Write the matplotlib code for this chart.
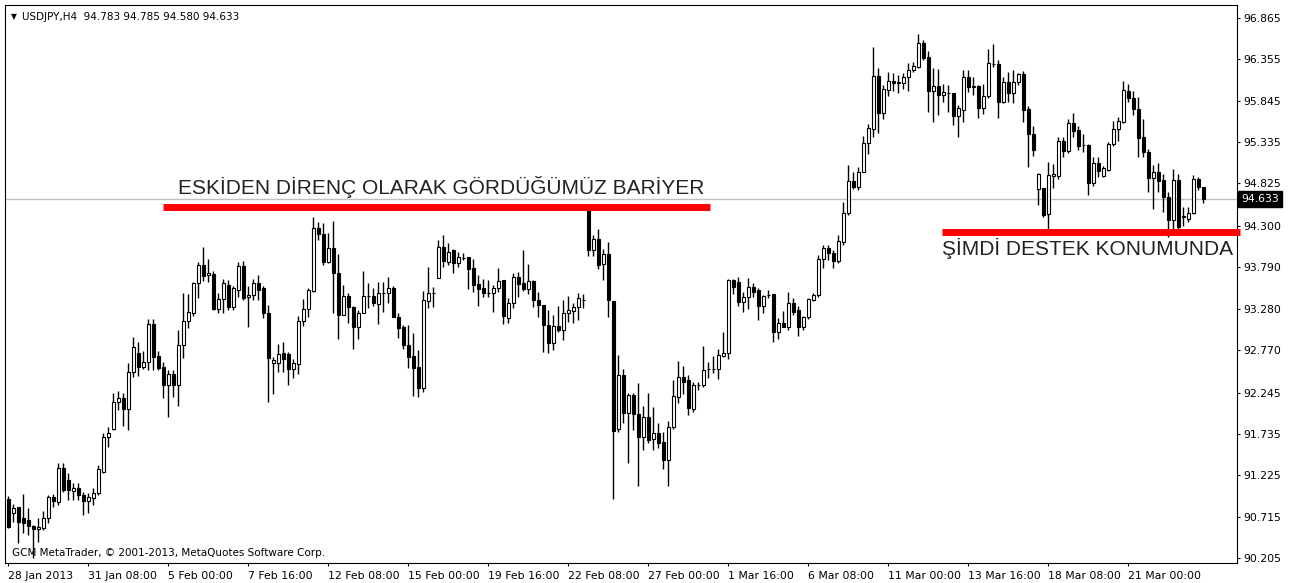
import matplotlib
matplotlib.use("Agg")
import matplotlib.pyplot as plt
import numpy as np

# USDJPY H4 candles
opens = [
    90.929, 90.764, 90.830, 90.694, 90.674, 90.600, 90.559, 90.571, 90.694, 90.962,
    90.900, 91.311, 91.167, 91.036, 91.064, 90.982, 90.908, 90.941, 91.003, 91.270,
    91.693, 91.792, 92.133, 92.182, 92.038, 92.503, 92.737, 92.564, 92.626, 93.091,
    92.696, 92.564, 92.338, 92.474, 92.338, 92.832, 93.132, 93.230, 93.592, 93.818,
    93.695, 93.707, 93.272, 93.395, 93.572, 93.304, 93.510, 93.806, 93.420, 93.448,
    93.592, 93.531, 93.231, 92.614, 92.614, 92.729, 92.721, 92.532, 92.598, 93.132,
    93.272, 93.502, 94.271, 94.197, 93.859, 94.024, 93.716, 93.202, 93.436, 93.296,
    93.058, 93.230, 93.436, 93.436, 93.337, 93.469, 93.469, 93.531, 93.181, 93.050,
    92.832, 92.697, 92.565, 92.298, 93.375, 93.470, 93.655, 94.045, 93.860, 94.004,
    93.840, 93.901, 93.922, 93.778, 93.585, 93.531, 93.478, 93.470, 93.531, 93.634,
    93.170, 93.355, 93.667, 93.593, 93.519, 93.626, 93.387, 93.326, 93.079, 92.853,
    93.067, 93.017, 93.231, 93.256, 93.297, 93.388, 94.497, 94.004, 94.136, 93.831,
    93.954, 93.378, 91.792, 92.462, 91.989, 92.215, 91.981, 91.693, 91.948, 91.668,
    91.750, 91.640, 91.413, 91.816, 92.194, 92.433, 92.400, 92.038, 92.339, 92.339,
    92.532, 92.532, 92.532, 92.697, 92.738, 93.634, 93.614, 93.367, 93.420, 93.552,
    93.511, 93.313, 93.449, 93.457, 92.997, 93.100, 93.059, 93.355, 93.264, 93.050,
    93.182, 93.387, 93.449, 93.889, 94.024, 93.971, 93.872, 94.107, 94.456, 94.859,
    94.777, 94.970, 95.319, 95.492, 96.150, 95.689, 95.977, 96.092, 96.080, 96.067,
    96.142, 96.224, 96.265, 96.553, 96.388, 95.965, 96.031, 95.916, 95.936, 95.936,
    95.661, 95.731, 96.142, 96.018, 96.031, 95.751, 95.907, 96.294, 96.294, 95.825,
    96.080, 95.936, 96.080, 96.175, 95.739, 95.435, 94.752, 94.765, 94.448, 94.921,
    94.917, 95.353, 95.229, 95.566, 95.484, 95.299, 95.299, 94.826, 95.081, 94.917,
    94.991, 95.311, 95.492, 95.587, 95.969, 95.875, 95.739, 95.394, 95.217, 94.888,
    94.970, 94.868, 94.654, 94.374, 94.868, 94.415, 94.382, 94.456, 94.876, 94.783,
]
highs = [
    90.970, 90.871, 90.838, 90.994, 90.818, 90.612, 90.694, 90.789, 90.982, 90.994,
    91.373, 91.381, 91.249, 91.134, 91.134, 91.023, 91.003, 91.064, 91.352, 91.751,
    91.825, 92.236, 92.264, 92.244, 92.614, 92.926, 92.865, 92.758, 93.148, 93.148,
    92.758, 92.626, 92.523, 92.523, 93.017, 93.469, 93.461, 93.613, 93.859, 94.036,
    93.888, 93.748, 93.469, 93.642, 93.633, 93.559, 93.859, 93.868, 93.559, 93.642,
    93.695, 93.559, 93.325, 92.688, 92.844, 92.873, 92.749, 92.655, 93.189, 93.395,
    93.531, 94.414, 94.353, 94.332, 94.217, 94.365, 93.954, 93.572, 93.469, 93.313,
    93.263, 93.748, 93.592, 93.531, 93.613, 93.613, 93.675, 93.559, 93.222, 93.079,
    93.079, 92.985, 92.771, 93.502, 93.798, 93.552, 94.127, 94.189, 94.094, 94.012,
    93.983, 93.963, 93.922, 93.889, 93.696, 93.642, 93.634, 93.572, 93.778, 93.634,
    93.408, 93.716, 93.737, 94.004, 93.831, 93.634, 93.490, 93.326, 93.264, 93.202,
    93.313, 93.387, 93.437, 93.355, 93.470, 93.461, 94.530, 94.189, 94.259, 94.012,
    94.106, 93.378, 92.708, 92.532, 92.244, 92.244, 92.367, 92.079, 92.236, 92.063,
    91.874, 91.763, 91.898, 92.400, 92.639, 92.573, 92.462, 92.380, 92.380, 92.819,
    92.627, 92.697, 92.779, 92.997, 93.642, 93.642, 93.675, 93.490, 93.655, 93.593,
    93.531, 93.449, 93.511, 93.457, 93.161, 93.252, 93.490, 93.408, 93.313, 93.190,
    93.408, 93.478, 93.938, 94.065, 94.065, 94.004, 94.189, 94.600, 95.052, 94.970,
    95.031, 95.410, 95.558, 96.511, 96.244, 96.039, 96.203, 96.191, 96.162, 96.182,
    96.306, 96.319, 96.664, 96.594, 96.458, 96.245, 96.236, 96.047, 96.039, 95.936,
    95.792, 96.224, 96.224, 96.142, 96.039, 96.047, 96.483, 96.541, 96.347, 96.142,
    96.203, 96.224, 96.191, 96.216, 95.780, 95.533, 94.950, 94.765, 95.093, 95.065,
    95.394, 95.402, 95.616, 95.698, 95.533, 95.435, 95.311, 95.147, 95.155, 95.040,
    95.340, 95.599, 95.648, 96.092, 96.051, 95.969, 95.895, 95.616, 95.246, 95.052,
    95.081, 94.941, 94.724, 94.999, 94.941, 94.530, 94.538, 94.929, 94.900, 94.785,
]
lows = [
    90.571, 90.653, 90.386, 90.509, 90.489, 90.201, 90.407, 90.550, 90.633, 90.838,
    90.859, 91.023, 90.921, 90.921, 90.921, 90.735, 90.756, 90.859, 90.982, 91.249,
    91.578, 91.780, 92.030, 91.833, 91.783, 92.441, 92.454, 92.532, 92.523, 92.523,
    92.523, 92.174, 91.948, 92.194, 92.079, 92.667, 93.037, 93.189, 93.407, 93.625,
    93.613, 93.263, 93.222, 93.231, 93.263, 93.263, 93.428, 93.387, 93.050, 93.387,
    93.387, 93.161, 92.133, 92.227, 92.503, 92.503, 92.338, 92.421, 92.474, 93.066,
    93.181, 93.489, 94.127, 93.818, 93.839, 93.222, 92.902, 93.202, 93.099, 92.778,
    92.902, 93.222, 93.284, 93.313, 93.091, 93.243, 93.346, 93.181, 92.914, 92.778,
    92.544, 92.203, 92.195, 92.257, 93.285, 93.305, 93.655, 93.798, 93.819, 93.724,
    93.798, 93.881, 93.519, 93.490, 93.313, 93.420, 93.428, 93.243, 93.490, 93.091,
    93.100, 93.285, 93.429, 93.503, 93.461, 93.305, 93.182, 92.750, 92.730, 92.771,
    92.997, 92.894, 93.120, 93.108, 93.141, 93.285, 93.930, 93.930, 93.766, 93.634,
    93.173, 90.928, 91.763, 91.866, 91.372, 91.783, 91.093, 91.537, 91.619, 91.537,
    91.557, 91.298, 91.093, 91.792, 92.120, 92.227, 91.968, 92.010, 92.277, 92.318,
    92.421, 92.491, 92.409, 92.689, 92.656, 93.461, 93.313, 93.243, 93.272, 93.429,
    93.141, 93.231, 93.408, 92.873, 92.902, 93.050, 93.017, 93.202, 92.943, 93.017,
    93.150, 93.379, 93.428, 93.778, 93.880, 93.778, 93.839, 94.065, 94.435, 94.752,
    94.744, 94.970, 95.188, 95.402, 95.451, 95.615, 95.903, 95.969, 95.936, 95.985,
    95.965, 96.203, 96.245, 96.347, 95.710, 95.587, 95.669, 95.825, 95.702, 95.546,
    95.402, 95.587, 95.957, 95.916, 95.636, 95.677, 95.875, 96.265, 95.636, 95.813,
    95.833, 95.821, 96.039, 95.587, 95.032, 95.163, 94.559, 94.415, 94.259, 94.765,
    94.876, 95.155, 95.196, 95.402, 95.237, 95.217, 94.682, 94.793, 94.909, 94.900,
    94.983, 95.287, 95.352, 95.575, 95.833, 95.669, 95.155, 95.155, 94.724, 94.506,
    94.724, 94.477, 94.168, 94.259, 94.242, 94.300, 94.353, 94.448, 94.744, 94.580,
]
closes = [
    90.592, 90.818, 90.653, 90.641, 90.600, 90.567, 90.583, 90.694, 90.962, 90.908,
    91.311, 91.044, 91.044, 91.064, 90.982, 90.908, 90.953, 91.011, 91.299, 91.702,
    91.751, 92.133, 92.182, 92.038, 92.503, 92.803, 92.564, 92.626, 93.091, 92.688,
    92.552, 92.338, 92.474, 92.338, 92.832, 93.132, 93.243, 93.600, 93.818, 93.683,
    93.716, 93.272, 93.395, 93.592, 93.304, 93.531, 93.806, 93.415, 93.448, 93.592,
    93.510, 93.222, 92.667, 92.647, 92.721, 92.655, 92.532, 92.606, 93.132, 93.272,
    93.510, 94.271, 94.197, 93.859, 94.024, 93.716, 93.202, 93.436, 93.296, 93.058,
    93.230, 93.436, 93.432, 93.354, 93.477, 93.469, 93.531, 93.181, 93.037, 92.832,
    92.688, 92.545, 92.298, 93.387, 93.478, 93.470, 94.045, 93.872, 93.983, 93.840,
    93.914, 93.901, 93.766, 93.572, 93.519, 93.478, 93.470, 93.531, 93.626, 93.190,
    93.355, 93.667, 93.585, 93.519, 93.626, 93.387, 93.326, 93.079, 92.853, 93.067,
    93.017, 93.231, 93.264, 93.297, 93.408, 93.388, 94.004, 94.136, 93.819, 93.951,
    93.387, 91.775, 92.462, 91.997, 92.215, 91.981, 91.693, 91.948, 91.660, 91.742,
    91.627, 91.413, 91.824, 92.203, 92.433, 92.380, 92.051, 92.339, 92.339, 92.523,
    92.532, 92.540, 92.709, 92.738, 93.634, 93.544, 93.367, 93.429, 93.552, 93.490,
    93.313, 93.437, 93.449, 92.997, 93.100, 93.059, 93.355, 93.244, 93.050, 93.182,
    93.395, 93.449, 93.889, 94.024, 93.971, 93.872, 94.119, 94.464, 94.859, 94.777,
    94.970, 95.319, 95.504, 96.150, 95.689, 95.985, 96.092, 96.067, 96.059, 96.141,
    96.224, 96.277, 96.553, 96.376, 95.965, 96.031, 95.916, 95.957, 95.936, 95.661,
    95.751, 96.142, 96.018, 96.018, 95.751, 95.907, 96.306, 96.294, 95.825, 96.072,
    95.936, 96.080, 96.175, 95.731, 95.435, 95.237, 94.935, 94.436, 94.929, 94.941,
    95.353, 95.229, 95.566, 95.476, 95.287, 95.299, 94.826, 95.081, 94.983, 95.011,
    95.311, 95.492, 95.599, 95.977, 95.875, 95.739, 95.381, 95.217, 94.888, 94.970,
    94.859, 94.654, 94.374, 94.868, 94.292, 94.415, 94.456, 94.876, 94.783, 94.633,
]

price_ticks = [96.865, 96.355, 95.845, 95.335, 94.825, 94.300, 93.790,
               93.280, 92.770, 92.245, 91.735, 91.225, 90.715, 90.205]
date_labels = ["28 Jan 2013", "31 Jan 08:00", "5 Feb 00:00", "7 Feb 16:00",
               "12 Feb 08:00", "15 Feb 00:00", "19 Feb 16:00", "22 Feb 08:00",
               "27 Feb 00:00", "1 Mar 16:00", "6 Mar 08:00", "11 Mar 00:00",
               "13 Mar 16:00", "18 Mar 08:00", "21 Mar 00:00"]
bars_per_label = 16

last_price = 94.633
resistance = 94.534          # old resistance drawn on the chart
resistance_bars = (30.9, 140.3)
support = 94.226             # now acting as support
support_bars = (186.7, 246.3)

W, H = 1298, 583
fig = plt.figure(figsize=(W / 100, H / 100), dpi=100)
ax = fig.add_axes([5 / W, (H - 563) / H, 1232 / W, 558 / H])

o = np.array(opens)
hi = np.array(highs)
lo = np.array(lows)
c = np.array(closes)
x = np.arange(len(o))
up = c >= o

# current price line behind candles
ax.axhline(last_price, color="#c0c0c0", lw=1, zorder=1)

ax.vlines(x, lo, hi, color="black", lw=1, zorder=2)
body_bottom = np.minimum(o, c)
body_height = np.maximum(np.abs(c - o), 0.004)
ax.bar(x, body_height, bottom=body_bottom, width=0.62,
       color=np.where(up, "white", "black"), edgecolor="black",
       linewidth=0.8, zorder=3)

# red level lines and notes
ax.plot(resistance_bars, [resistance, resistance], color="red", lw=5,
        solid_capstyle="butt", zorder=4)
ax.plot(support_bars, [support, support], color="red", lw=5,
        solid_capstyle="butt", zorder=4, clip_on=False)
ax.text(33.9, 94.781, "ESKİDEN DİRENÇ OLARAK GÖRDÜĞÜMÜZ BARİYER",
        family="Liberation Sans", fontsize=15, color="#222222",
        ha="left", va="center", zorder=5)
ax.text(186.7, 94.028, "ŞİMDİ DESTEK KONUMUNDA",
        family="Liberation Sans", fontsize=15, color="#222222",
        ha="left", va="center", zorder=5)

ax.set_xlim(-0.66, 245.74)
ax.set_ylim(90.143, 97.025)

ax.yaxis.tick_right()
ax.set_yticks(price_ticks)
ax.set_yticklabels([f"{v:.3f}" for v in price_ticks])
ax.set_xticks([i * bars_per_label for i in range(len(date_labels))])
ax.set_xticklabels(date_labels)
for lab in ax.get_xticklabels():
    lab.set_horizontalalignment("left")
ax.tick_params(axis="both", direction="out", length=2.5, width=0.8,
               labelsize=7.8, colors="black")
ax.tick_params(axis="y", pad=2)
ax.tick_params(axis="x", pad=3)
for sp in ax.spines.values():
    sp.set_color("black")
    sp.set_linewidth(0.8)

# last price tag on the price scale
ax.annotate(f"{last_price:.3f}", xy=(1.0, last_price),
            xycoords=("axes fraction", "data"), xytext=(3, 0),
            textcoords="offset points", ha="left", va="center",
            fontsize=7.8, color="white",
            bbox=dict(boxstyle="square,pad=0.25", fc="black", ec="black"))

fig.text(11 / W, 1 - 17 / H, "▼", fontsize=5.5, va="center", ha="left")
fig.text(22 / W, 1 - 17 / H, "USDJPY,H4  94.783 94.785 94.580 94.633",
         fontsize=7.5, va="center", ha="left")
fig.text(12 / W, 1 - 553 / H,
         "GCM MetaTrader, © 2001-2013, MetaQuotes Software Corp.",
         fontsize=7.5, va="center", ha="left")

fig.savefig("out.png", dpi=100, facecolor="white")
